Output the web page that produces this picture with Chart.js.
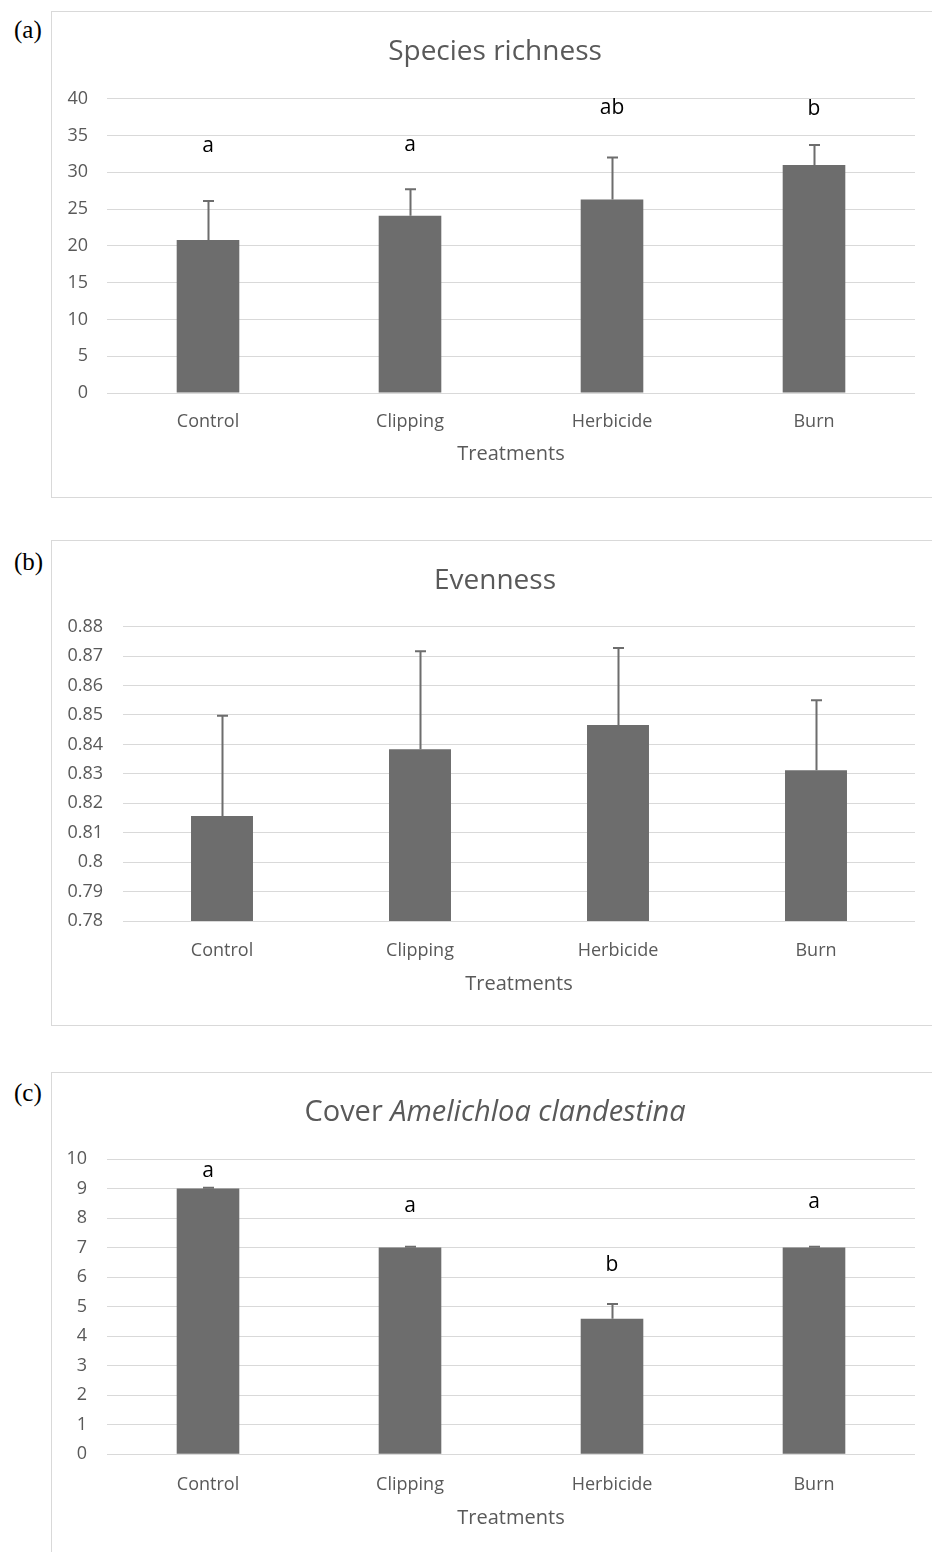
<!DOCTYPE html>
<html>
<head>
<meta charset="utf-8">
<script src="https://cdn.jsdelivr.net/npm/chart.js@4"></script>
<style>
  body { margin: 0; background: #fff; width: 932px; height: 1552px; overflow: hidden; position: relative; }
  .box { position: absolute; left: 51px; width: 900px; border: 1px solid #d9d9d9; overflow: hidden; }
  .box canvas { display: block; }
  .lab { position: absolute; left: 14px; font: 25px "Liberation Serif"; line-height: 25px; color: #000; }
</style>
</head>
<body>
<div class="lab" style="top:17px">(a)</div>
<div class="lab" style="top:549px">(b)</div>
<div class="lab" style="top:1080px">(c)</div>

<div class="box" style="top:11px;height:485px"><canvas id="richChart" width="900" height="485"></canvas></div>
<div class="box" style="top:540px;height:484px"><canvas id="evenChart" width="900" height="484"></canvas></div>
<div class="box" style="top:1072px;height:490px"><canvas id="coverChart" width="900" height="490"></canvas></div>

<script>
// data
var treatments = ['Control', 'Clipping', 'Herbicide', 'Burn'];

var richness        = [20.8, 24.1, 26.3, 31.0];
var richnessErr     = [5.3, 3.6, 5.7, 2.7];
var richnessLetters = ['a', 'a', 'ab', 'b'];
var richnessLetterY = [32.8, 32.9, 37.9, 37.8];
var richnessTicks   = { min: 0, max: 40, step: 5 };

var evenness    = [0.8157, 0.8384, 0.8466, 0.8312];
var evennessErr = [0.034, 0.0333, 0.0262, 0.0238];
var evennessTicks = { min: 0.78, max: 0.88, step: 0.01 };

var cover        = [9.0, 7.0, 4.59, 7.0];
var coverErr     = [0.03, 0.03, 0.5, 0.03];
var coverLetters = ['a', 'a', 'b', 'a'];
var coverLetterY = [9.38, 8.2, 6.21, 8.33];
var coverTicks   = { min: 0, max: 10, step: 1 };

var GREY_TEXT = '#595959';
var BAR = '#6d6d6d';
var GRID = '#d9d9d9';

// error bars (upper only) + significance letters
var errorBars = {
  id: 'errorBars',
  afterDatasetsDraw: function(chart, args, opts) {
    var ctx = chart.ctx, xs = chart.scales.x, ys = chart.scales.y;
    var vals = chart.data.datasets[0].data;
    ctx.save();
    ctx.strokeStyle = BAR;
    ctx.lineWidth = 2;
    vals.forEach(function(v, i) {
      var px = Math.round(xs.getPixelForValue(i)) + 0.5;
      var base = ys.getPixelForValue(v);
      var top = ys.getPixelForValue(v + opts.err[i]);
      ctx.beginPath();
      ctx.moveTo(px, base);
      ctx.lineTo(px, top);
      ctx.moveTo(px - 5.5, top);
      ctx.lineTo(px + 5.5, top);
      ctx.stroke();
    });
    if (opts.letters) {
      ctx.fillStyle = '#000';
      ctx.font = '21px "Open Sans"';
      ctx.textAlign = 'center';
      ctx.textBaseline = 'alphabetic';
      opts.letters.forEach(function(t, i) {
        ctx.fillText(t, xs.getPixelForValue(i), ys.getPixelForValue(opts.letterY[i]));
      });
    }
    ctx.restore();
  }
};

// chart title, allows an italic part
var panelTitle = {
  id: 'panelTitle',
  afterDraw: function(chart, args, opts) {
    var ctx = chart.ctx;
    ctx.save();
    ctx.fillStyle = GREY_TEXT;
    ctx.textBaseline = 'alphabetic';
    ctx.textAlign = 'left';
    var total = 0;
    opts.parts.forEach(function(p) {
      ctx.font = (p.italic ? 'italic ' : '') + opts.size + 'px "Open Sans"';
      p.w = ctx.measureText(p.text).width;
      total += p.w;
    });
    var x = 443 - total / 2;
    opts.parts.forEach(function(p) {
      ctx.font = (p.italic ? 'italic ' : '') + opts.size + 'px "Open Sans"';
      ctx.fillText(p.text, x, 48);
      x += p.w;
    });
    ctx.restore();
  }
};

function makeChart(id, values, ticks, cfg) {
  return new Chart(document.getElementById(id), {
    type: 'bar',
    data: {
      labels: treatments,
      datasets: [{
        data: values,
        backgroundColor: BAR,
        borderWidth: 0,
        barPercentage: cfg.barPct,
        categoryPercentage: 1
      }]
    },
    plugins: [errorBars, panelTitle],
    options: {
      responsive: false,
      animation: false,
      devicePixelRatio: 1,
      layout: { padding: { top: cfg.top, right: 37, bottom: cfg.bottom, left: 0 } },
      plugins: {
        legend: { display: false },
        tooltip: { enabled: false },
        errorBars: { err: cfg.err, letters: cfg.letters, letterY: cfg.letterY },
        panelTitle: { parts: cfg.title, size: cfg.titleSize || 28 }
      },
      scales: {
        x: {
          grid: { display: false },
          border: { display: false },
          ticks: { color: GREY_TEXT, font: { family: 'Open Sans', size: 18 }, padding: cfg.tickPad, maxRotation: 0 },
          title: {
            display: true, text: 'Treatments', color: GREY_TEXT,
            font: { family: 'Open Sans', size: 20 },
            padding: { top: 0, bottom: cfg.titlePad }
          },
          afterFit: function(s) { s.height = 90; }
        },
        y: {
          min: ticks.min, max: ticks.max,
          grid: { color: GRID, lineWidth: 1, drawTicks: false },
          border: { display: false },
          ticks: {
            stepSize: ticks.step, color: GREY_TEXT, padding: cfg.yPad,
            font: { family: 'Open Sans', size: 18 },
            callback: function(v) { return String(Number(v.toFixed(4))); }
          },
          afterFit: function(s) { s.width = cfg.yWidth; }
        }
      }
    }
  });
}

makeChart('richChart', richness, richnessTicks, {
  barPct: 0.31, top: 86.7, bottom: 14, tickPad: 10, titlePad: 17, yPad: 19, yWidth: 55,
  err: richnessErr, letters: richnessLetters, letterY: richnessLetterY,
  title: [{ text: 'Species richness' }]
});

makeChart('evenChart', evenness, evennessTicks, {
  barPct: 0.313, top: 85.7, bottom: 14, tickPad: 11, titlePad: 15, yPad: 20, yWidth: 71,
  err: evennessErr,
  title: [{ text: 'Evenness' }]
});

makeChart('coverChart', cover, coverTicks, {
  barPct: 0.31, top: 86, bottom: 18.7, tickPad: 12, titlePad: 14, yPad: 20, yWidth: 55,
  err: coverErr, letters: coverLetters, letterY: coverLetterY,
  title: [{ text: 'Cover ' }, { text: 'Amelichloa clandestina', italic: true }], titleSize: 29
});
</script>
</body>
</html>
